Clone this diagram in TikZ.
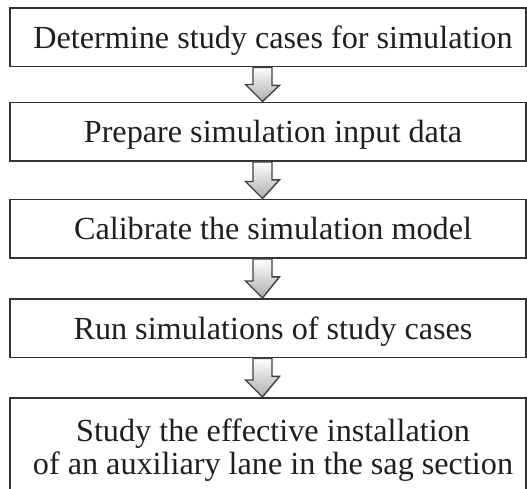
\documentclass[tikz,border=0pt]{standalone}
\usepackage{fontspec}
\setmainfont{Liberation Serif}
\usetikzlibrary{calc}
\begin{document}
\begin{tikzpicture}[x=1pt,y=1pt,
  stepbox/.style={draw=black!80, line width=1.8pt, minimum width=516pt,
    minimum height=58.5pt, inner sep=0pt, align=center,
    font=\fontsize{32.2}{33}\selectfont, text=black!88, anchor=north},
  oneline/.style={text height=22pt, text depth=0pt},
  flowarrow/.style={draw=black!75, line width=1.4pt, top color=white,
    bottom color=black!32, line join=miter}]
\useasboundingbox (0,0) rectangle (527,-488);
\clip (0,0) rectangle (527,-488);
\coordinate (ax) at (262.5,0);
\node[stepbox, oneline] (b1) at (268,-7) {\hspace*{10pt}Determine study cases for simulation};
\node[stepbox, oneline] (b2) at (268,-101.5) {\hspace*{10pt}Prepare simulation input data};
\node[stepbox, oneline] (b3) at (268,-198.5) {\hspace*{10pt}Calibrate the simulation model};
\node[stepbox, oneline] (b4) at (268,-298) {\hspace*{10pt}Run simulations of study cases};
\node[stepbox, minimum height=104pt] (b5) at (268,-397)
  {\hspace*{10pt}Study the effective installation\\\hspace*{10pt}of an auxiliary lane in the sag section};
\foreach \a/\b in {b1/b2,b2/b3,b3/b4,b4/b5}{
  \draw[flowarrow] (\a.south -| ax) ++(-9.5,0) -- ++(19,0) -- ++(0,-18)
    -- ++(7.5,0) -- (\b.north -| ax) -- ++(-17,17) -- ++(7.5,0) -- cycle;
}
\end{tikzpicture}
\end{document}
